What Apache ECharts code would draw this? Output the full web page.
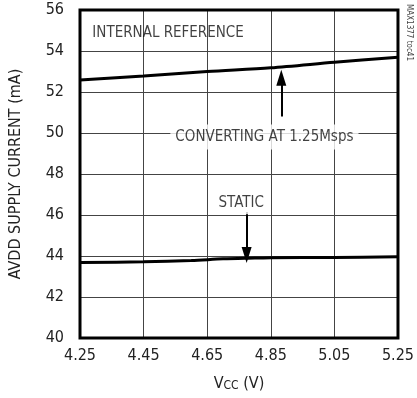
<!DOCTYPE html>
<html>
<head>
<meta charset="utf-8">
<script src="https://cdn.jsdelivr.net/npm/echarts@6/dist/echarts.min.js"></script>
<style>
  html, body { margin: 0; padding: 0; background: #fff; }
  #chart { width: 417px; height: 398px; }
</style>
</head>
<body>
<div id="chart"></div>
<script>
// 横轴刻度 (V)
const xTicks = [4.25, 4.45, 4.65, 4.85, 5.05, 5.25];
// 纵轴刻度 (mA)
const yTicks = [40, 42, 44, 46, 48, 50, 52, 54, 56];

// 转换中 1.25Msps
const convX = [4.25, 4.45, 4.65, 4.85, 5.05, 5.25];
const convY = [52.58, 52.78, 53.0, 53.18, 53.45, 53.7];

// 静态
const staticX = [4.25, 4.45, 4.6, 4.7, 4.8, 4.85, 5.05, 5.25];
const staticY = [43.68, 43.72, 43.78, 43.86, 43.9, 43.92, 43.93, 43.96];

const FONT = '"Liberation Sans Narrow", "DejaVu Sans Condensed", sans-serif';

const chart = echarts.init(document.getElementById('chart'));

const zip = (xs, ys) => xs.map((x, i) => [x, ys[i]]);

// 竖向网格线用 markLine 画（4.25 不是 0.2 的整数倍）
const vGrid = xTicks.slice(1, -1).map(v => ({ xAxis: v }));

const option = {
  animation: false,
  grid: {
    left: 78, right: 10, top: 10, bottom: 60,
    show: true,
    borderColor: '#000',
    borderWidth: 3,
    z: 10
  },
  xAxis: {
    type: 'value',
    min: xTicks[0],
    max: xTicks[xTicks.length - 1],
    interval: 0.05,
    axisLine: { show: false },
    axisTick: { show: false },
    splitLine: { show: false },
    axisLabel: {
      margin: 10,
      color: '#222',
      fontFamily: FONT,
      fontSize: 16,
      formatter: v => xTicks.some(t => Math.abs(t - v) < 1e-6) ? v.toFixed(2) : ''
    },
    name: '{v|V}{s|CC}{v| (V)}',
    nameLocation: 'middle',
    nameGap: 38,
    nameTextStyle: {
      rich: {
        v: { fontFamily: FONT, fontSize: 16, color: '#222' },
        s: { fontFamily: FONT, fontSize: 12, color: '#222', padding: [4, 0, 0, 0] }
      }
    }
  },
  yAxis: {
    type: 'value',
    min: yTicks[0],
    max: yTicks[yTicks.length - 1],
    interval: 2,
    axisLine: { show: false },
    axisTick: { show: false },
    axisLabel: {
      margin: 16,
      color: '#222',
      fontFamily: FONT,
      fontSize: 16
    },
    splitLine: { lineStyle: { color: '#444', width: 1 } },
    name: 'AVDD SUPPLY CURRENT (mA)',
    nameLocation: 'middle',
    nameGap: 56,
    nameTextStyle: { fontFamily: FONT, fontSize: 16, color: '#222' }
  },
  series: [
    {
      name: 'static',
      type: 'line',
      data: zip(staticX, staticY),
      smooth: 0.3,
      showSymbol: false,
      lineStyle: { color: '#000', width: 3 },
      z: 3,
      markLine: {
        silent: true,
        symbol: 'none',
        label: { show: false },
        lineStyle: { color: '#444', width: 1, type: 'solid' },
        data: vGrid,
        z: 1
      }
    },
    {
      name: 'converting',
      type: 'line',
      data: zip(convX, convY),
      smooth: 0.3,
      showSymbol: false,
      lineStyle: { color: '#000', width: 3 },
      z: 3,
      markLine: {
        silent: true,
        symbol: ['none', 'triangle'],
        symbolSize: [10, 16],
        label: { show: false },
        lineStyle: { color: '#000', width: 2, type: 'solid' },
        data: [
          [{ coord: [4.883, 50.8] }, { coord: [4.883, 52.7] }],
          [{ coord: [4.774, 46.15] }, { coord: [4.774, 44.05] }]
        ],
        z: 4
      }
    },
    {
      name: 'notes',
      type: 'scatter',
      symbolSize: 0,
      silent: true,
      z: 6,
      label: {
        show: true,
        position: [0, 0],
        align: 'center',
        verticalAlign: 'middle',
        fontFamily: FONT,
        fontSize: 15,
        color: '#111',
        formatter: p => p.value[2]
      },
      data: [
        { value: [4.527, 54.88, 'INTERNAL REFERENCE'] },
        {
          value: [4.83, 49.8, 'CONVERTING AT 1.25Msps'],
          label: { backgroundColor: '#fff', padding: [5, 5] }
        },
        {
          value: [4.757, 46.6, 'STATIC'],
          label: { backgroundColor: '#fff', padding: [4, 7] }
        }
      ]
    }
  ],
  graphic: [
    {
      type: 'text',
      left: 405,
      top: 4,
      rotation: -Math.PI / 2,
      style: {
        text: 'MAX1377 toc41',
        fontFamily: FONT,
        fontSize: 8,
        fill: '#444'
      }
    }
  ]
};

chart.setOption(option);
</script>
</body>
</html>
